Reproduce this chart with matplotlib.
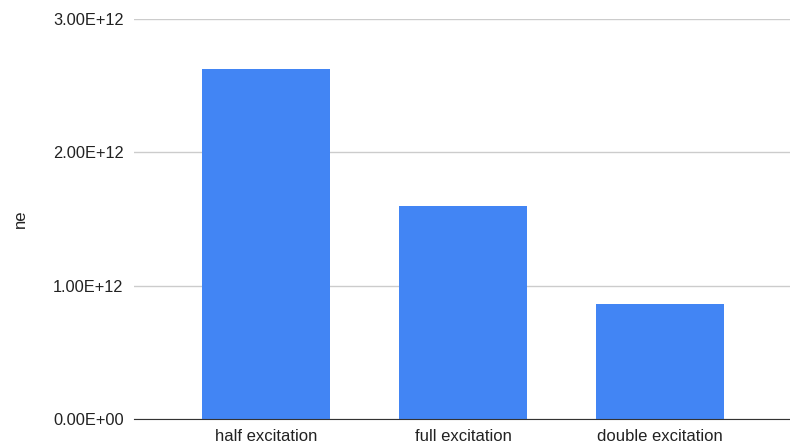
import matplotlib.pyplot as plt
from matplotlib.ticker import FuncFormatter

categories = ['half excitation', 'full excitation', 'double excitation']
ne_values = [2.625e12, 1.597e12, 0.862e12]
y_ticks = [0, 1e12, 2e12, 3e12]

plt.rcParams['font.family'] = ['Liberation Sans', 'DejaVu Sans']

fig = plt.figure(figsize=(7.9, 4.43), dpi=100)
ax = fig.add_axes([134 / 790, 24 / 443, 656 / 790, 400 / 443])

x = range(len(categories))
ax.bar(x, ne_values, width=0.65, color='#4285f4', zorder=3)

ax.set_xlim(-0.67, 2.66)
ax.set_ylim(0, 3e12)
ax.set_yticks(y_ticks)
ax.yaxis.set_major_formatter(FuncFormatter(lambda v, p: f'{v:.2E}'))
ax.set_xticks(list(x))
ax.set_xticklabels(categories, fontsize=12, va='baseline')

ax.grid(axis='y', color='#cccccc', linewidth=1, zorder=0)
for side in ['top', 'right', 'left']:
    ax.spines[side].set_visible(False)
ax.spines['bottom'].set_color('#333333')
ax.spines['bottom'].set_zorder(4)
ax.tick_params(axis='both', length=0, colors='#222222')
ax.tick_params(axis='y', pad=7.5, labelsize=11.8)
ax.tick_params(axis='x', pad=16)

ax.set_ylabel('ne', fontsize=12, color='#222222')
ax.yaxis.set_label_coords((28 - 134) / 656, 0.5)

fig.savefig('out.png', dpi=100)
